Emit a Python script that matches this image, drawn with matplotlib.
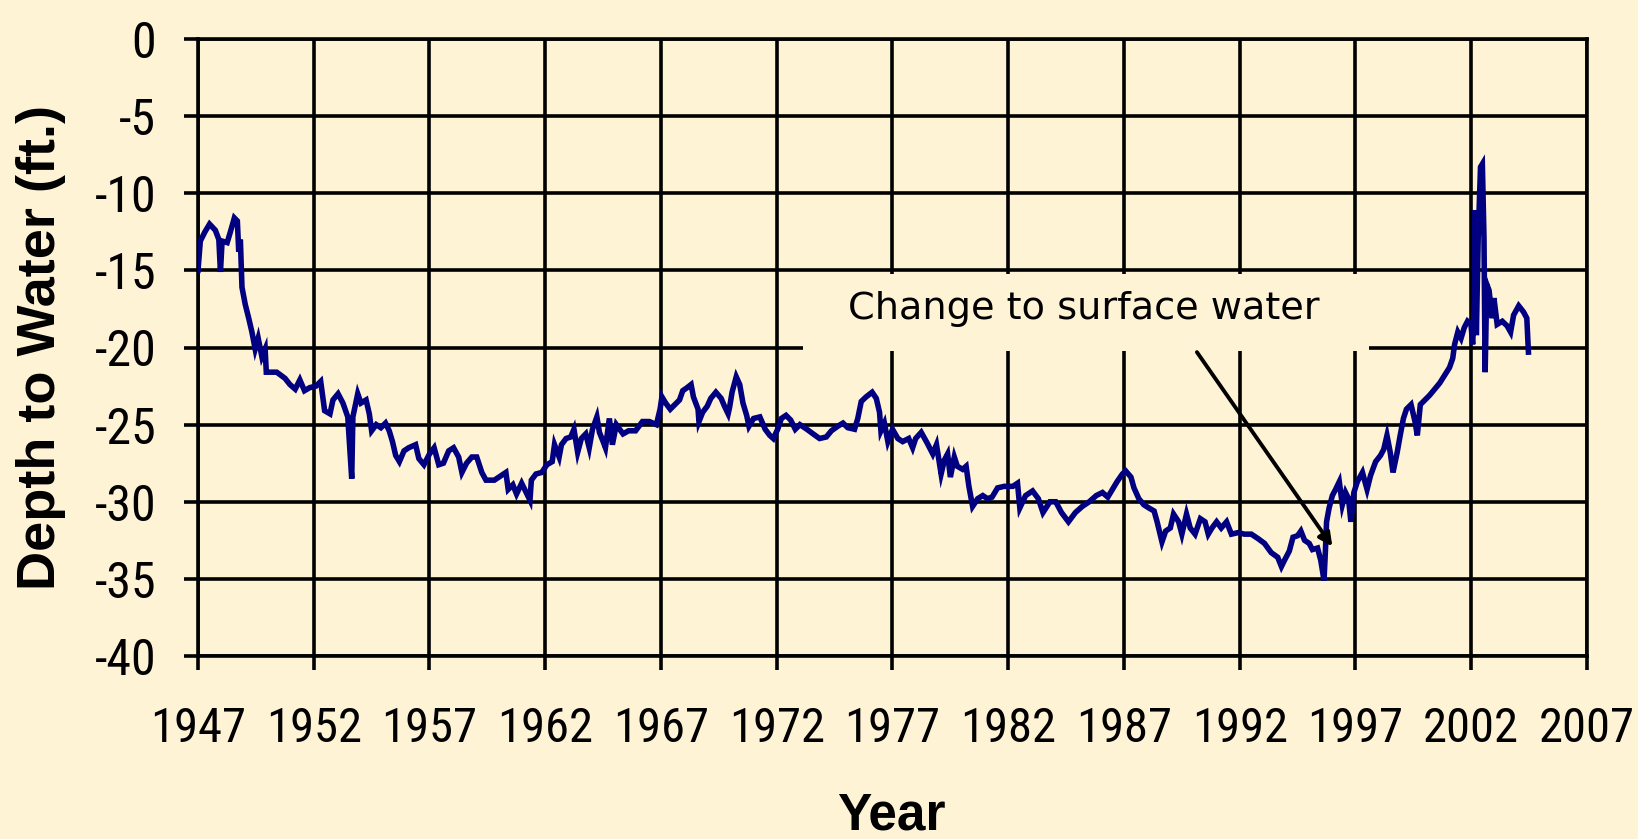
import matplotlib
matplotlib.use("Agg")
import matplotlib.pyplot as plt
from matplotlib.patches import Rectangle

# ---------------- data ----------------
years = [
    1947.0, 1947.1, 1947.3, 1947.5, 1947.75, 1947.9, 1947.97, 1948.04, 1948.26, 1948.4,
    1948.57, 1948.7, 1948.76, 1948.83, 1948.9, 1949.04, 1949.19, 1949.33, 1949.47, 1949.6,
    1949.76, 1949.9, 1949.95, 1950.1, 1950.4, 1950.76, 1950.97, 1951.2, 1951.4, 1951.6,
    1951.83, 1952.1, 1952.3, 1952.47, 1952.7, 1952.83, 1953.05, 1953.26, 1953.47, 1953.64,
    1953.69, 1953.9, 1954.04, 1954.26, 1954.4, 1954.5, 1954.7, 1954.9, 1955.1, 1955.26,
    1955.4, 1955.54, 1955.7, 1955.9, 1956.1, 1956.4, 1956.54, 1956.76, 1957.0, 1957.2,
    1957.4, 1957.6, 1957.83, 1958.04, 1958.26, 1958.4, 1958.6, 1958.83, 1959.04, 1959.26,
    1959.44, 1959.8, 1960.1, 1960.3, 1960.4, 1960.6, 1960.76, 1960.98, 1961.34, 1961.4,
    1961.6, 1961.85, 1962.07, 1962.3, 1962.4, 1962.6, 1962.7, 1962.9, 1963.1, 1963.24,
    1963.4, 1963.56, 1963.75, 1963.9, 1964.04, 1964.23, 1964.34, 1964.5, 1964.6, 1964.77,
    1964.9, 1965.07, 1965.36, 1965.6, 1965.9, 1966.2, 1966.5, 1966.8, 1966.96, 1967.04,
    1967.2, 1967.4, 1967.6, 1967.8, 1967.94, 1968.13, 1968.3, 1968.4, 1968.6, 1968.64,
    1968.8, 1969.0, 1969.15, 1969.37, 1969.6, 1969.74, 1969.9, 1969.96, 1970.07, 1970.25,
    1970.4, 1970.54, 1970.7, 1970.8, 1971.0, 1971.27, 1971.5, 1971.7, 1971.85, 1972.04,
    1972.2, 1972.4, 1972.6, 1972.8, 1973.0, 1973.3, 1973.57, 1973.85, 1974.14, 1974.36,
    1974.64, 1974.86, 1975.07, 1975.36, 1975.5, 1975.65, 1975.86, 1976.12, 1976.3, 1976.44,
    1976.5, 1976.65, 1976.8, 1977.0, 1977.23, 1977.44, 1977.7, 1977.87, 1978.0, 1978.24,
    1978.5, 1978.74, 1978.9, 1979.1, 1979.24, 1979.38, 1979.5, 1979.67, 1979.8, 1980.03,
    1980.18, 1980.3, 1980.46, 1980.68, 1980.9, 1981.1, 1981.3, 1981.54, 1981.83, 1982.2,
    1982.4, 1982.5, 1982.75, 1983.05, 1983.3, 1983.5, 1983.8, 1984.05, 1984.3, 1984.6,
    1984.9, 1985.2, 1985.5, 1985.8, 1986.07, 1986.3, 1986.5, 1986.7, 1986.93, 1987.07,
    1987.3, 1987.43, 1987.64, 1987.86, 1988.07, 1988.3, 1988.43, 1988.64, 1988.8, 1989.0,
    1989.14, 1989.36, 1989.5, 1989.7, 1989.86, 1990.07, 1990.3, 1990.5, 1990.64, 1990.8,
    1991.0, 1991.2, 1991.43, 1991.64, 1991.93, 1992.2, 1992.5, 1992.8, 1993.07, 1993.36,
    1993.64, 1993.8, 1993.93, 1994.14, 1994.3, 1994.5, 1994.64, 1994.8, 1995.0, 1995.14,
    1995.36, 1995.5, 1995.64, 1995.7, 1995.75, 1995.86, 1996.0, 1996.14, 1996.3, 1996.43,
    1996.57, 1996.7, 1996.8, 1996.93, 1997.08, 1997.3, 1997.5, 1997.65, 1997.87, 1998.08,
    1998.22, 1998.36, 1998.5, 1998.62, 1998.8, 1998.93, 1999.07, 1999.2, 1999.4, 1999.57,
    1999.67, 1999.8, 2000.0, 2000.2, 2000.42, 2000.64, 2000.85, 2001.06, 2001.2, 2001.28,
    2001.42, 2001.56, 2001.7, 2001.84, 2001.99, 2002.06, 2002.13, 2002.17, 2002.22, 2002.3,
    2002.4, 2002.48, 2002.55, 2002.6, 2002.67, 2002.77, 2002.9, 2002.98, 2003.12, 2003.34,
    2003.55, 2003.7, 2003.83, 2004.05, 2004.26, 2004.4, 2004.47,
]

depth_ft = [
    -15.0, -13.1, -12.5, -12.0, -12.4, -13.0, -15.1, -13.1, -13.2, -12.5,
    -11.6, -11.8, -13.8, -13.0, -16.1, -17.2, -18.1, -19.0, -20.1, -19.4,
    -20.6, -20.1, -21.6, -21.6, -21.6, -22.0, -22.4, -22.7, -22.1, -22.8,
    -22.6, -22.5, -22.2, -24.1, -24.3, -23.4, -23.0, -23.6, -24.5, -28.5,
    -24.5, -23.0, -23.6, -23.4, -24.3, -25.4, -25.0, -25.2, -24.9, -25.4,
    -26.1, -27.0, -27.4, -26.7, -26.5, -26.3, -27.2, -27.6, -26.9, -26.5,
    -27.6, -27.5, -26.7, -26.5, -27.1, -28.1, -27.5, -27.1, -27.1, -28.1,
    -28.6, -28.6, -28.3, -28.1, -29.2, -28.9, -29.5, -28.8, -29.9, -28.6,
    -28.2, -28.1, -27.6, -27.4, -26.3, -27.1, -26.3, -25.9, -25.8, -25.3,
    -26.8, -25.9, -25.6, -26.5, -25.3, -24.5, -25.5, -26.1, -26.5, -24.6,
    -26.3, -25.0, -25.6, -25.4, -25.4, -24.8, -24.8, -25.0, -24.0, -23.2,
    -23.6, -24.0, -23.7, -23.4, -22.8, -22.6, -22.4, -23.2, -24.0, -24.8,
    -24.2, -23.8, -23.3, -22.9, -23.3, -23.8, -24.3, -23.9, -22.9, -21.9,
    -22.4, -23.6, -24.4, -25.1, -24.6, -24.5, -25.3, -25.7, -25.9, -25.3,
    -24.6, -24.4, -24.7, -25.3, -25.0, -25.3, -25.6, -25.9, -25.8, -25.4,
    -25.1, -24.9, -25.2, -25.3, -24.6, -23.5, -23.2, -22.9, -23.3, -24.2,
    -25.4, -24.9, -26.1, -25.3, -25.9, -26.1, -25.9, -26.5, -25.9, -25.5,
    -26.2, -26.9, -26.3, -28.2, -27.3, -26.9, -28.4, -27.1, -27.7, -27.9,
    -27.7, -29.0, -30.3, -29.8, -29.6, -29.8, -29.7, -29.1, -29.0, -29.0,
    -28.8, -30.4, -29.6, -29.3, -29.8, -30.7, -30.0, -30.0, -30.7, -31.3,
    -30.7, -30.3, -30.0, -29.6, -29.4, -29.7, -29.2, -28.7, -28.2, -28.0,
    -28.4, -29.1, -29.8, -30.2, -30.4, -30.6, -31.3, -32.6, -31.9, -31.7,
    -30.8, -31.3, -32.1, -30.8, -31.7, -32.1, -31.1, -31.3, -32.1, -31.7,
    -31.3, -31.7, -31.3, -32.1, -32.0, -32.1, -32.1, -32.4, -32.7, -33.3,
    -33.6, -34.2, -33.8, -33.2, -32.3, -32.2, -31.9, -32.5, -32.7, -33.1,
    -33.0, -33.8, -35.1, -33.2, -31.3, -30.4, -29.6, -29.2, -28.7, -30.2,
    -29.4, -29.8, -31.3, -29.4, -28.7, -28.1, -29.2, -28.3, -27.4, -27.0,
    -26.6, -25.7, -26.8, -28.1, -26.8, -25.7, -24.6, -24.0, -23.7, -24.8,
    -25.7, -23.7, -23.4, -23.1, -22.7, -22.3, -21.8, -21.3, -20.7, -19.8,
    -19.0, -19.4, -18.7, -18.3, -18.5, -19.8, -17.2, -11.1, -19.2, -12.9,
    -8.3, -8.1, -12.9, -21.6, -15.9, -16.3, -18.1, -16.8, -18.5, -18.3,
    -18.6, -19.0, -17.9, -17.3, -17.7, -18.1, -20.3,
]

x_ticks = [1947, 1952, 1957, 1962, 1967, 1972, 1977, 1982, 1987, 1992, 1997, 2002, 2007]
y_ticks = [0, -5, -10, -15, -20, -25, -30, -35, -40]

annotation_text = "Change to surface water"
arrow_target = (1996.0, -32.9)   # where the arrow points (year, depth)
arrow_start = (1990.15, -20.3)

# ---------------- styling ----------------
BG = "#FFF3D6"
LINE = "#000080"
W, H, DPI = 1638, 839, 100

plt.rcParams["axes.unicode_minus"] = False

fig = plt.figure(figsize=(W / DPI, H / DPI), dpi=DPI, facecolor=BG)
ax = fig.add_axes([198 / W, 1 - 656 / H, (1587 - 198) / W, (656 - 39) / H])
ax.set_facecolor(BG)

grid_lw = 2.6
ax.set_xlim(1947, 2007)
ax.set_ylim(-40, 0)
ax.set_xticks(x_ticks)
ax.set_yticks(y_ticks)

tick_font = ["Roboto Condensed", "Liberation Sans Narrow", "Liberation Sans"]
ax.set_xticklabels([str(t) for t in x_ticks], family=tick_font, fontsize=35)
ax.set_yticklabels([str(t) for t in y_ticks], family=tick_font, fontsize=36)
ax.tick_params(axis="both", direction="out", length=10, width=grid_lw, color="black")
ax.tick_params(axis="x", pad=26)
ax.tick_params(axis="y", pad=20)
for s in ax.spines.values():
    s.set_linewidth(grid_lw)
    s.set_color("black")
ax.grid(True, color="black", linewidth=grid_lw, zorder=1)
ax.set_axisbelow(True)

# data line
ax.plot(years, depth_ft, color=LINE, linewidth=4.0, zorder=3, solid_joinstyle="miter")

# text box (covers gridlines), annotation text and arrow
ax.add_patch(Rectangle((1973.13, -20.23), 24.45, 4.99, facecolor=BG, edgecolor="none",
                       zorder=2))
ax.text(1985.27, -17.5, annotation_text, ha="center", va="center",
        family="DejaVu Sans", fontsize=27.5, color="black", zorder=4)
ax.annotate("", xy=arrow_target, xytext=arrow_start,
            arrowprops=dict(arrowstyle="-|>", color="black", lw=2.8,
                            mutation_scale=20, shrinkA=0, shrinkB=0), zorder=4)

ax.set_ylabel("Depth to Water (ft.)", fontsize=39, fontweight="bold",
              family=["Liberation Sans", "DejaVu Sans"])
ax.yaxis.set_label_coords((41 - 198) / (1587 - 198), 0.5)
ax.yaxis.label.set_va("center")
ax.set_xlabel("Year", fontsize=37, fontweight="bold",
              family=["Liberation Sans", "DejaVu Sans"])
ax.xaxis.set_label_coords(0.499, (656 - 816) / (656 - 39))
ax.xaxis.label.set_va("center")

fig.savefig("out.png", dpi=DPI, facecolor=BG)
